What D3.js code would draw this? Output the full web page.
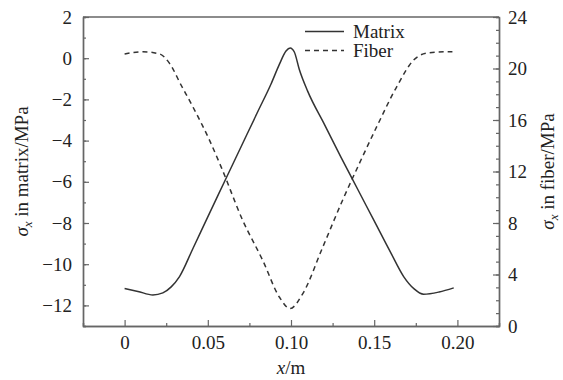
<!DOCTYPE html>
<html>
<head>
<meta charset="utf-8">
<script src="https://cdn.jsdelivr.net/npm/d3@7"></script>
<style>
  body { margin: 0; background: #fff; }
  text { font-family: "Liberation Serif", "Times New Roman", serif; fill: #222; }
</style>
</head>
<body>
<div id="main"></div>
<script>
// data
const matrixX = [0, 0.008, 0.017, 0.023, 0.028, 0.033, 0.041, 0.050, 0.060, 0.070, 0.080, 0.088, 0.093, 0.097, 0.0995, 0.102, 0.105, 0.110, 0.120, 0.130, 0.140, 0.150, 0.160, 0.1677, 0.174, 0.1797, 0.189, 0.1978];
const matrixY = [-11.18, -11.32, -11.49, -11.39, -11.1, -10.6, -9.25, -7.7, -6.0, -4.3, -2.6, -1.25, -0.3, 0.35, 0.5, 0.3, -0.55, -1.6, -3.2, -4.8, -6.35, -7.9, -9.45, -10.6, -11.2, -11.46, -11.35, -11.15];

const fiberX = [0, 0.011, 0.021, 0.027, 0.034, 0.041, 0.051, 0.058, 0.071, 0.083, 0.093, 0.0994, 0.107, 0.119, 0.131, 0.141, 0.1516, 0.1636, 0.1737, 0.1817, 0.1918, 0.197];
const fiberY = [21.13, 21.3, 21.13, 20.4, 18.7, 17.03, 14.44, 12.36, 8.2, 5.1, 2.25, 1.35, 2.5, 6.1, 9.77, 12.6, 15.5, 18.6, 20.66, 21.2, 21.3, 21.3];

const xTicks = [0, 0.05, 0.10, 0.15, 0.20];
const xTickLabels = ["0", "0.05", "0.10", "0.15", "0.20"];
const leftTicks = [-12, -10, -8, -6, -4, -2, 0, 2];
const rightTicks = [0, 4, 8, 12, 16, 20, 24];

const W = 563, H = 380;
const margin = { top: 17, right: 64, bottom: 54, left: 83 },
    width = W - margin.left - margin.right,
    height = H - margin.top - margin.bottom;

const svg = d3.select("#main")
    .append("svg")
    .attr("width", W)
    .attr("height", H);

const g = svg.append("g")
    .attr("transform", `translate(${margin.left},${margin.top})`);

const x = d3.scaleLinear().domain([-0.025, 0.225]).range([0, width]);
const yL = d3.scaleLinear().domain([-13, 2]).range([height, 0]);
const yR = d3.scaleLinear().domain([0, 24]).range([height, 0]);

const axisColor = "#666";
const fontSize = 19;

function styleAxis(sel) {
    sel.attr("font-family", null);
    sel.select(".domain").attr("stroke", axisColor).attr("stroke-width", 1.4);
    sel.selectAll(".tick line").attr("stroke", axisColor).attr("stroke-width", 1.2);
    sel.selectAll(".tick text")
        .style("font-size", fontSize + "px")
        .style("font-family", "'Liberation Serif', serif")
        .attr("fill", "#222");
}

// minor ticks
const xMinor = d3.range(-0.025, 0.2251, 0.025).filter(v => !xTicks.some(t => Math.abs(t - v) < 1e-6));
g.append("g")
    .attr("transform", `translate(0,${height})`)
    .call(d3.axisBottom(x).tickValues(xMinor).tickSize(-3).tickFormat(""))
    .call(styleAxis);
g.append("g")
    .call(d3.axisLeft(yL).tickValues(d3.range(-13, 3, 1)).tickSize(-3).tickFormat(""))
    .call(styleAxis);
g.append("g")
    .attr("transform", `translate(${width},0)`)
    .call(d3.axisRight(yR).tickValues(d3.range(0, 25, 1)).tickSize(-3).tickFormat(""))
    .call(styleAxis);

// major ticks
g.append("g")
    .attr("transform", `translate(0,${height})`)
    .call(d3.axisBottom(x).tickValues(xTicks).tickSizeInner(-6).tickSizeOuter(0).tickPadding(10)
        .tickFormat((d, i) => xTickLabels[i]))
    .call(styleAxis);
g.append("g")
    .call(d3.axisLeft(yL).tickValues(leftTicks).tickSizeInner(-6).tickSizeOuter(0).tickPadding(11))
    .call(styleAxis);
g.append("g")
    .attr("transform", `translate(${width},0)`)
    .call(d3.axisRight(yR).tickValues(rightTicks).tickSizeInner(-6).tickSizeOuter(0).tickPadding(9))
    .call(styleAxis);

// top frame line
g.append("line")
    .attr("x1", 0).attr("x2", width)
    .attr("y1", 0).attr("y2", 0)
    .attr("stroke", axisColor).attr("stroke-width", 1.4);

// curves
const matrixData = matrixX.map((v, i) => [v, matrixY[i]]);
const fiberData = fiberX.map((v, i) => [v, fiberY[i]]);

g.append("path")
    .datum(matrixData)
    .attr("fill", "none")
    .attr("stroke", "#333")
    .attr("stroke-width", 1.5)
    .attr("d", d3.line().x(d => x(d[0])).y(d => yL(d[1])).curve(d3.curveMonotoneX));

g.append("path")
    .datum(fiberData)
    .attr("fill", "none")
    .attr("stroke", "#333")
    .attr("stroke-width", 1.5)
    .attr("stroke-dasharray", "5,4")
    .attr("d", d3.line().x(d => x(d[0])).y(d => yR(d[1])).curve(d3.curveMonotoneX));

// legend
const legend = svg.append("g");
[["Matrix", null, 31.5], ["Fiber", "5,4", 50.5]].forEach(([name, dash, ly]) => {
    legend.append("line")
        .attr("x1", 305).attr("x2", 344)
        .attr("y1", ly).attr("y2", ly)
        .attr("stroke", "#333").attr("stroke-width", 1.5)
        .attr("stroke-dasharray", dash);
    legend.append("text")
        .attr("x", 353).attr("y", ly + 6)
        .style("font-size", fontSize + "px")
        .text(name);
});

// axis titles
svg.append("text")
    .attr("x", margin.left + x(0.10))
    .attr("y", 374)
    .attr("text-anchor", "middle")
    .style("font-size", fontSize + "px")
    .html('<tspan font-style="italic">x</tspan>/m');

function sigmaLabel(sel, rest) {
    sel.append("tspan").attr("font-style", "italic").text("σ");
    sel.append("tspan").attr("font-style", "italic").attr("dy", 4).style("font-size", "13px").text("x");
    sel.append("tspan").attr("dy", -4).text(rest);
}

const cy = margin.top + height / 2;
svg.append("text")
    .attr("transform", `translate(28,${cy}) rotate(-90)`)
    .attr("text-anchor", "middle")
    .style("font-size", fontSize + "px")
    .call(sigmaLabel, " in matrix/MPa");

svg.append("text")
    .attr("transform", `translate(554,${cy}) rotate(-90)`)
    .attr("text-anchor", "middle")
    .style("font-size", fontSize + "px")
    .call(sigmaLabel, " in fiber/MPa");
</script>
</body>
</html>
